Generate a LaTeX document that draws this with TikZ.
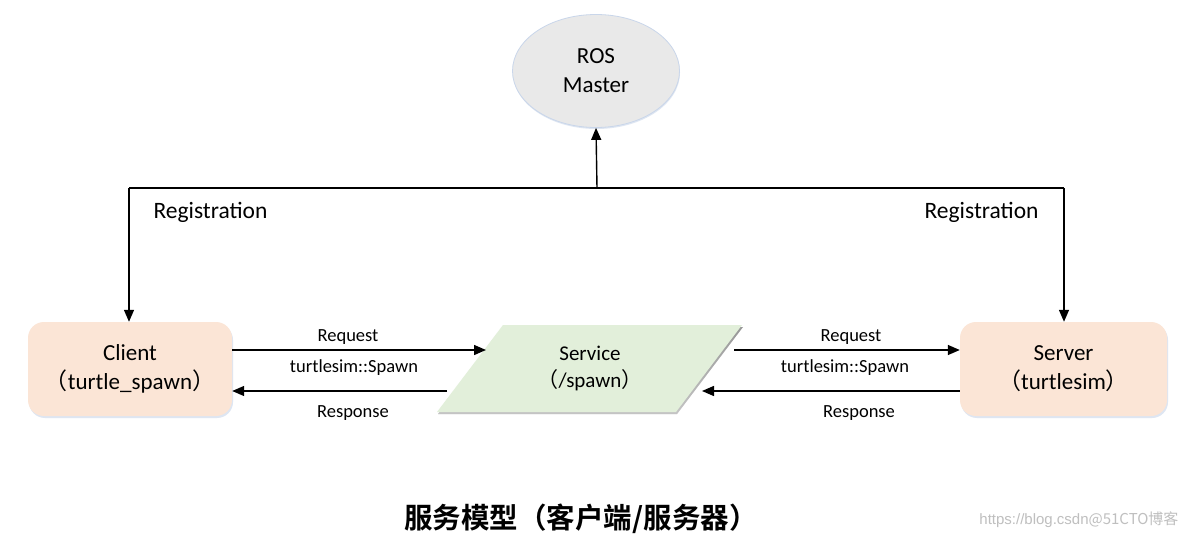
\documentclass[tikz,border=0pt]{standalone}
\usepackage{fontspec}
\setmainfont{Carlito}
\newfontfamily\cjk{Noto Sans CJK SC}
\newfontfamily\cjkb{Noto Sans CJK SC Bold}
\newfontfamily\wm{Liberation Sans}
\usetikzlibrary{shapes.geometric,arrows.meta,shadows}
\newcommand{\lpar}{{\cjk （}}
\newcommand{\rpar}{{\cjk ）}}
\definecolor{peach}{HTML}{FBE5D6}
\definecolor{mint}{HTML}{E2EFDA}
\definecolor{mastergray}{HTML}{E9E9E9}
\definecolor{shade}{HTML}{C9D6EA}
\begin{document}
\begin{tikzpicture}[x=1pt,y=-1pt,
  arr/.style={line width=1.4pt,-{Triangle[length=12pt,width=10pt]}},
  line/.style={line width=1.4pt},
  big/.style={font=\fontsize{23}{29}\selectfont, align=center},
  small/.style={font=\fontsize{18.5}{22}\selectfont},
  procbox/.style={draw=none, fill=peach, rounded corners=16pt, big,
     drop shadow={shadow xshift=1pt, shadow yshift=-2pt, fill=shade, opacity=0.6}},
]
\useasboundingbox (0,0) rectangle (1184,548);
\fill[white] (0,0) rectangle (1184,548);

% master
\node[ellipse, fill=mastergray, draw=shade, line width=0.8pt, minimum width=167pt, minimum height=113pt, big,
  drop shadow={shadow xshift=0.5pt, shadow yshift=-1.5pt, fill=shade, opacity=0.6}]
  (master) at (596,71) {ROS\\Master};

% client & server
\node[procbox, minimum width=204pt, minimum height=94pt] (client) at (130,369) {Client\\\lpar turtle\_spawn\rpar};
\node[procbox, minimum width=207pt, minimum height=94pt] (server) at (1063.5,369) {Server\\\lpar turtlesim\rpar};

% service parallelogram
\fill[shade, opacity=0.35] (504,327) -- (743,327) -- (677,414) -- (438,414) -- cycle;
\fill[mint] (503,325) -- (742,325) -- (676,412) -- (437,412) -- cycle;
\node[font=\fontsize{21}{27}\selectfont, align=center] (svc) at (590,368.5) {Service\\\lpar /spawn\rpar};

% registration tree
\coordinate (junc) at (597,188);
\coordinate (lc) at (129,188);
\coordinate (rc) at (1064,188);
\draw[arr] (junc) -- (master.south);
\draw[line] (lc) -- (rc);
\draw[arr] (lc) -- (client.north -| lc);
\draw[arr] (rc) -- (server.north -| rc);
\node[font=\fontsize{23.5}{28}\selectfont, anchor=west] (regl) at (150,212) {Registration};
\node[font=\fontsize{23.5}{28}\selectfont, anchor=east] (regr) at (1042,212) {Registration};

% left arrows
\coordinate (sreqL) at (486,350);
\coordinate (sresL) at (447,391);
\draw[arr] (client.east |- sreqL) -- (sreqL);
\draw[arr] (sresL) -- (client.east |- sresL);
\node[small] (lreq) at (348,337) {Request};
\node[small] (lty) at (354,368) {turtlesim::Spawn};
\node[small] (lres) at (353,413) {Response};

% right arrows
\coordinate (sreqR) at (734,350);
\coordinate (sresR) at (702,391);
\draw[arr] (sreqR) -- (server.west |- sreqR);
\draw[arr] (server.west |- sresR) -- (sresR);
\node[small] (rreq) at (851,337) {Request};
\node[small] (rty) at (845,368) {turtlesim::Spawn};
\node[small] (rres) at (859,413) {Response};

% caption
\node[font=\cjkb\fontsize{28.5}{32}\selectfont] (cap) at (581,519) {服务模型（客户端/服务器）};
\node[font=\wm\fontsize{15}{18}\selectfont, text=black!25, anchor=east] (wmk) at (1182,520) {https://blog.csdn{\cjk @51CTO博客}};
\end{tikzpicture}
\end{document}
